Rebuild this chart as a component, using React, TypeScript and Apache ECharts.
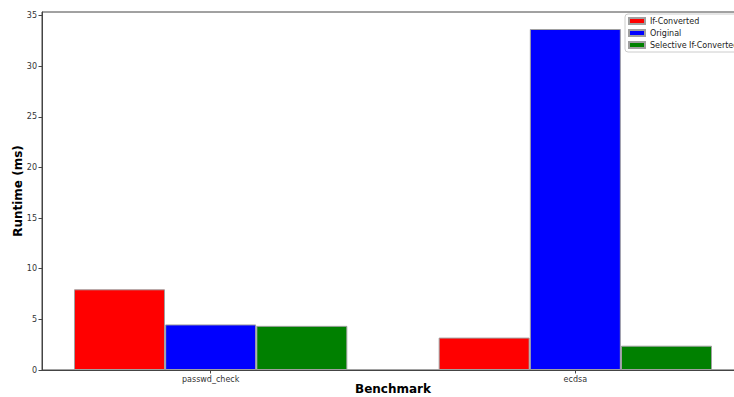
import React, { useEffect, useRef } from "react";
import * as echarts from "echarts";

const categories = ["passwd_check", "ecdsa"];
const seriesNames = ["If-Converted", "Original", "Selective If-Converted"];
const ifConverted = [7.97, 3.2];
const original = [4.5, 33.67];
const selective = [4.36, 2.4];
const yTicks = [0, 5, 10, 15, 20, 25, 30, 35];

const FONT = "DejaVu Sans";

export default function App() {
  const ref = useRef<HTMLDivElement>(null);
  useEffect(() => {
    if (!ref.current) return;
    const chart = echarts.init(ref.current, null, { renderer: "svg" });
    const groups = [ifConverted, original, selective];
    const colors = ["#ff0000", "#0000ff", "#008000"];
    const offsets = [-0.25, 0, 0.25];
    const series = groups.map((vals, si) => ({
      name: seriesNames[si],
      type: "bar",
      barWidth: 91,
      barGap: "-100%",
      itemStyle: { color: colors[si], borderColor: "#a0a0a0", borderWidth: 1 },
      data: vals.map((v, i) => [i + offsets[si], v]),
    }));
    chart.setOption({
      animation: false,
      textStyle: { fontFamily: FONT },
      grid: {
        left: 42,
        right: 16,
        top: 12,
        bottom: 27,
        containLabel: false,
        outerBoundsMode: "none",
        show: true,
        borderColor: "#444",
        borderWidth: 1,
        backgroundColor: "transparent",
      },
      legend: {
        orient: "vertical",
        left: 625,
        top: 14,
        padding: [3, 4, 3, 3],
        itemWidth: 16,
        itemHeight: 6,
        itemGap: 4,
        icon: "rect",
        backgroundColor: "#fff",
        borderColor: "#ccc",
        borderWidth: 1,
        borderRadius: 3,
        textStyle: { fontFamily: FONT, fontSize: 8, lineHeight: 8, color: "#222" },
        data: seriesNames,
      },
      xAxis: {
        type: "value",
        min: -0.4625,
        max: 1.4625,
        splitLine: { show: false },
        axisLine: { show: true, onZero: false, lineStyle: { color: "#444", width: 1 } },
        axisTick: { show: true, length: 3.5, lineStyle: { color: "#444" }, customValues: [0, 1] },
        axisLabel: {
          fontFamily: FONT,
          fontSize: 8,
          color: "#333",
          margin: 5,
          customValues: [0, 1],
          formatter: (v: number) => categories[Math.round(v)] ?? "",
        },
        name: "Benchmark",
        nameLocation: "middle",
        nameMoveOverlap: false,
        nameGap: 13,
        nameTextStyle: { fontFamily: FONT, fontSize: 12, fontWeight: "bold", color: "#000" },
      },
      yAxis: {
        type: "value",
        min: 0,
        max: 35.35,
        splitLine: { show: false },
        axisLine: { show: true, onZero: false, lineStyle: { color: "#444", width: 1 } },
        axisTick: { show: true, length: 3.5, lineStyle: { color: "#444" }, customValues: yTicks },
        axisLabel: { fontFamily: FONT, fontSize: 8, color: "#333", margin: 5, customValues: yTicks },
        name: "Runtime (ms)",
        nameLocation: "middle",
        nameMoveOverlap: false,
        nameGap: 18,
        nameTextStyle: { fontFamily: FONT, fontSize: 12, fontWeight: "bold", color: "#000" },
      },
      series,
    });
    return () => chart.dispose();
  }, []);
  return (
    <div style={{ position: "absolute", left: 0, top: 0, width: 734, height: 397, overflow: "hidden", background: "#fff" }}>
      <div ref={ref} style={{ width: 760, height: 397 }} />
    </div>
  );
}
